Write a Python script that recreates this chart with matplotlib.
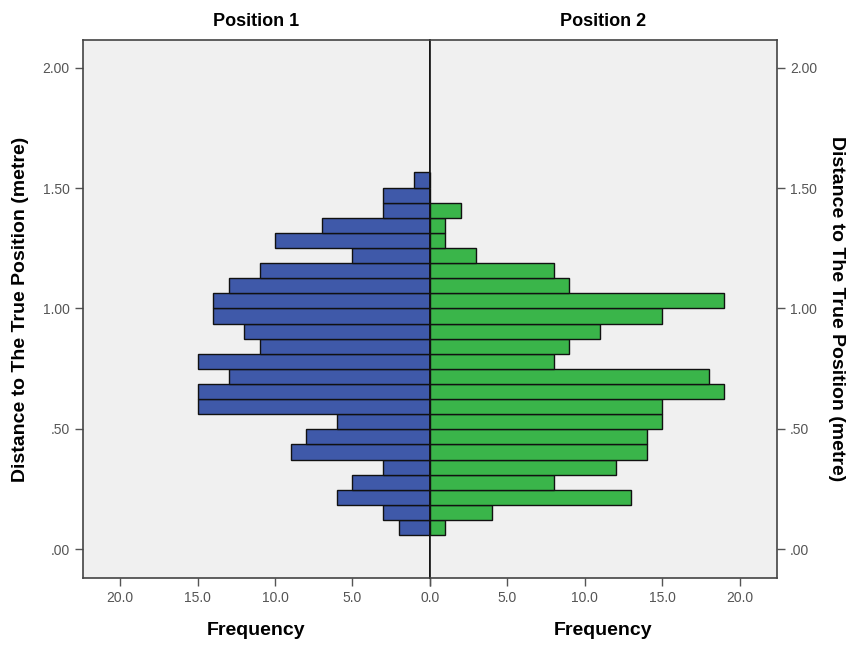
import matplotlib
matplotlib.use("Agg")
import matplotlib.pyplot as plt
import numpy as np

# histogram counts, bottom bin first
pos1_counts = [2, 3, 6, 5, 3, 9, 8, 6, 15, 15, 13, 15, 11, 12, 14, 14, 13, 11, 5, 10, 7, 3, 3, 1]
pos2_counts = [1, 4, 13, 8, 12, 14, 14, 15, 15, 19, 18, 8, 9, 11, 15, 19, 9, 8, 3, 1, 1, 2, 0, 0]
bin_start = 0.058
bin_width = 0.0628
panel_titles = ["Position 1", "Position 2"]
y_ticks = [0.0, 0.5, 1.0, 1.5, 2.0]
x_ticks = [0, 5, 10, 15, 20]

blue = "#3F59A9"
green = "#3AB54A"
bg = "#F0F0F0"
tick_col = "#555555"
font = ["Liberation Sans", "DejaVu Sans"]
bold_font = ["Liberation Sans Narrow", "Liberation Sans", "DejaVu Sans"]

edges = bin_start + bin_width * np.arange(len(pos1_counts))

fig = plt.figure(figsize=(8.5, 6.45), dpi=100)
ax1 = fig.add_axes([0.0976, 0.104, 0.4082, 0.834])
ax2 = fig.add_axes([0.5058, 0.104, 0.4082, 0.834], sharey=ax1)

def ylab(v):
    s = f"{v:.2f}"
    return s[1:] if s.startswith("0") else s

for ax, counts, col, title in [(ax1, pos1_counts, blue, panel_titles[0]),
                               (ax2, pos2_counts, green, panel_titles[1])]:
    ax.set_facecolor(bg)
    ax.barh(edges, counts, height=bin_width, align="edge", color=col,
            edgecolor="#111111", linewidth=1.0, zorder=2)
    ax.set_xlim(0, 22.4)
    ax.set_xticks(x_ticks)
    ax.tick_params(axis="both", direction="out", length=6, color=tick_col, width=1)
    ax.set_xlabel("Frequency", family=bold_font, fontsize=14, fontweight="bold", labelpad=12)
    ax.set_title(title, family=bold_font, fontsize=13, fontweight="bold", pad=10)
    for sp in ax.spines.values():
        sp.set_color("#444444")
        sp.set_linewidth(1.2)

# the shared 0.0 label is drawn once, by the left panel
ax1.set_xticklabels([f"{t:.1f}" for t in x_ticks], family=font, fontsize=10, color=tick_col)
ax2.set_xticklabels(["" if t == 0 else f"{t:.1f}" for t in x_ticks],
                    family=font, fontsize=10, color=tick_col)

ax1.invert_xaxis()
ax1.set_ylim(-0.12, 2.116)
ax1.set_yticks(y_ticks)
ax1.set_yticklabels([ylab(v) for v in y_ticks], family=font, fontsize=10, color=tick_col)
ax1.set_ylabel("Distance to The True Position (metre)", family=font, fontsize=14,
               fontweight="bold", labelpad=10)

ax2.yaxis.tick_right()
ax2.yaxis.set_label_position("right")
ax2.tick_params(axis="y", labelright=True, labelleft=False)
for lbl in ax2.get_yticklabels():
    lbl.set_family(font)
    lbl.set_fontsize(10)
    lbl.set_color(tick_col)
ax2.set_ylabel("Distance to The True Position (metre)", family=font, fontsize=14,
               fontweight="bold", rotation=-90, labelpad=20)

ax1.spines["right"].set_color("#111111")
ax2.spines["left"].set_color("#111111")

fig.savefig("out.png", dpi=100)
